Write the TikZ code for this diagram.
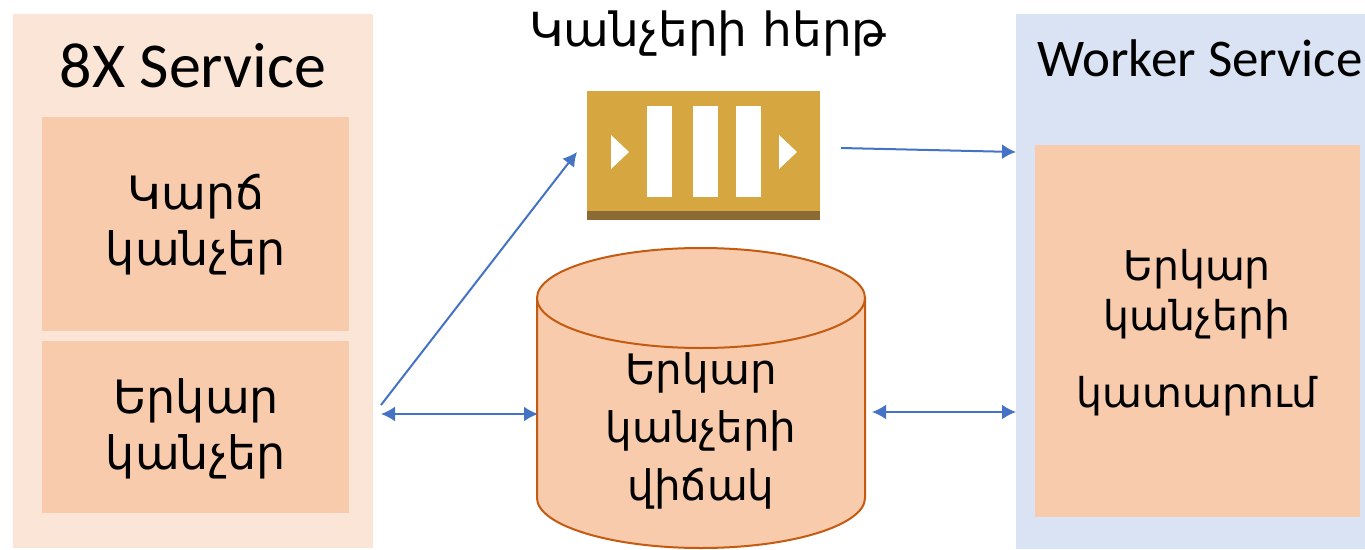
\documentclass[tikz,border=0pt]{standalone}
\usepackage{fontspec}
\setmainfont{Carlito}
\newfontfamily\armfont{DejaVu Sans}
\usetikzlibrary{shapes.geometric,arrows.meta}
\definecolor{peachpale}{RGB}{251,229,214}
\definecolor{peach}{RGB}{247,203,172}
\definecolor{bluepale}{RGB}{218,227,243}
\definecolor{arrowblue}{RGB}{68,114,196}
\definecolor{drumline}{RGB}{197,90,17}
\definecolor{queuegold}{RGB}{214,166,64}
\definecolor{queuedark}{RGB}{139,107,52}
\tikzset{
  x=1pt,y=-1pt,
  lbl/.style={font=\fontsize{46}{56}\selectfont\armfont,align=center,text=black,inner sep=0pt},
  lblsmall/.style={font=\fontsize{42}{58}\selectfont\armfont,align=center,text=black,inner sep=0pt},
  box/.style={fill=peach,draw=none,inner sep=0pt,anchor=north west},
  panel/.style={draw=none,inner sep=0pt,anchor=north west},
  link/.style={draw=arrowblue,line width=2pt,-{Latex[length=14pt,width=15pt]}},
  linkboth/.style={draw=arrowblue,line width=2pt,{Latex[length=14pt,width=15pt]}-{Latex[length=14pt,width=15pt]}}
}
\begin{document}
\begin{tikzpicture}
    \useasboundingbox (0,0) rectangle (1365,549);
    % panels
    \node[panel,fill=peachpale,minimum width=360,minimum height=534] (svc) at (13,14) {};
    \node[panel,fill=bluepale,minimum width=349,minimum height=535] (wrk) at (1016,14) {};
    \node[box,minimum width=307,minimum height=214] (brief) at (42,117) {};
    \node[box,minimum width=307,minimum height=172] (long) at (42,341) {};
    \node[box,minimum width=325,minimum height=372] (exec) at (1035,145) {};
    % titles
    \node[font=\fontsize{64}{70}\selectfont,inner sep=0pt] (svctitle) at (193,66) {8X Service};
    \node[font=\fontsize{53}{58}\selectfont,inner sep=0pt] (wrktitle) at (1200,58) {Worker Service};
    \node[lbl,font=\fontsize{47}{50}\selectfont\armfont] (qtitle) at (708,34) {Կանչերի հերթ};
    % box texts
    \node[lbl] (brieftext) at (196,225) {Կարճ\\կանչեր};
    \node[lbl] (longtext) at (196,429) {Երկար\\կանչեր};
    \node[lblsmall,font=\fontsize{41}{50}\selectfont\armfont] (exectext) at (1197,333) {Երկար\\կանչերի\\[27pt]կատարում};
    % queue
    \node[panel,fill=queuegold,minimum width=233,minimum height=129] (queue) at (587,91) {};
    \fill[queuedark] (587,211) rectangle (820,220);
    \foreach \xa in {647,693,736}
      \fill[white] (\xa,106) rectangle (\xa+25,197);
    \fill[white] (611,135) -- (629,152) -- (611,169) -- cycle;
    \fill[white] (779,135) -- (797,152) -- (779,169) -- cycle;
    % state store
    \draw[draw=drumline,fill=peach,line width=2pt] (537,298) -- (537,498)
      .. controls (537,525) and (610,548) .. (701,548)
      .. controls (792,548) and (865,525) .. (865,498) -- (865,298) -- cycle;
    \node[draw=drumline,fill=peach,line width=2pt,ellipse,minimum width=328,minimum height=100,inner sep=0pt] (store) at (701,298) {};
    \node[lblsmall] (storetext) at (701,431) {Երկար\\կանչերի\\վիճակ};
    % links
    \coordinate (fork) at (381,405);
    \coordinate (forkb) at (381,414);
    \coordinate (qin) at (577,152);
    \coordinate (qout) at (841,148);
    \coordinate (wrkin) at (1016,152);
    \coordinate (st) at (538,414);
    \coordinate (str) at (872,412);
    \coordinate (wrkb) at (1016,412);
    \draw[link] (fork) -- (qin);
    \draw[link] (qout) -- (wrkin);
    \draw[linkboth] (forkb) -- (st);
    \draw[linkboth] (str) -- (wrkb);
\end{tikzpicture}
\end{document}
